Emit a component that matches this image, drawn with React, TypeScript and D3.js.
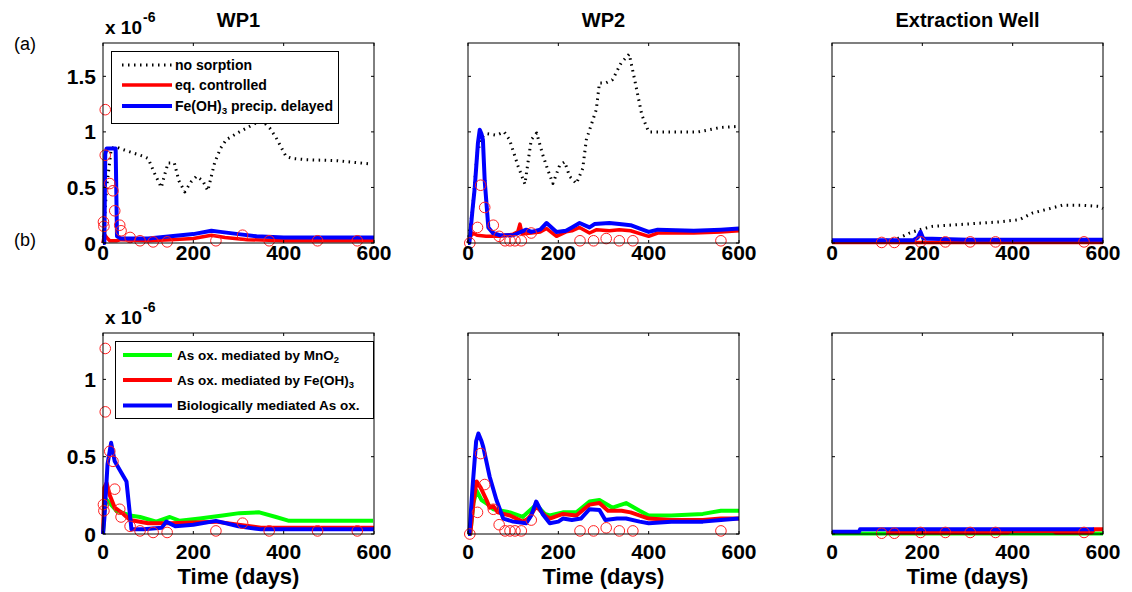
import React from 'react';
import * as d3 from 'd3';

type Pt = [number, number];

// ---------- tick labels / text ----------
const dayTicks = [0, 200, 400, 600];
const yTicksTop = [0, 0.5, 1, 1.5];
const yTicksBottom = [0, 0.5, 1];
const panelTitles = ['WP1', 'WP2', 'Extraction Well'];
const xAxisLabel = 'Time (days)';
const rowLabels = ['(a)', '(b)'];
// legend labels as [before, subscript, after]
const legendTop: [string, string, string][] = [
  ['no sorption', '', ''],
  ['eq. controlled', '', ''],
  ['Fe(OH)', '3', ' precip. delayed'],
];
const legendBottom: [string, string, string][] = [
  ['As ox. mediated by MnO', '2', ''],
  ['As ox. mediated by Fe(OH)', '3', ''],
  ['Biologically mediated As ox.', '', ''],
];

// ---------- data (values in 1e-6) ----------
// Row (a) WP1
const wp1NoSorption: Pt[] = [[0,0],[8,0.5],[18,0.84],[26,0.87],[45,0.84],[67,0.81],[90,0.78],[100,0.76],[115,0.62],[129,0.5],[137,0.62],[144,0.72],[158,0.72],[168,0.56],[181,0.46],[195,0.55],[207,0.6],[221,0.56],[232,0.47],[247,0.72],[260,0.85],[273,0.93],[302,1.0],[339,1.08],[355,1.09],[370,1.03],[383,0.95],[405,0.78],[420,0.76],[449,0.75],[520,0.74],[596,0.71]];
const wp1EqControlled: Pt[] = [[0,0],[3,0.08],[8,0.05],[15,0.02],[30,0.02],[40,0.03],[100,0.02],[150,0.03],[200,0.04],[240,0.07],[270,0.05],[320,0.03],[400,0.02],[600,0.02]];
const wp1Delayed: Pt[] = [[0,0],[3,0],[5,0.8],[8,0.85],[28,0.85],[31,0.06],[40,0.04],[100,0.04],[150,0.06],[200,0.08],[240,0.11],[260,0.1],[300,0.08],[340,0.06],[400,0.05],[600,0.05]];
// Row (b) WP1
const wp1MnO2: Pt[] = [[0,0],[3,0.15],[8,0.22],[15,0.2],[30,0.15],[45,0.135],[60,0.12],[82,0.11],[118,0.08],[148,0.11],[170,0.085],[214,0.1],[265,0.12],[302,0.135],[346,0.14],[383,0.11],[412,0.085],[500,0.085],[598,0.085]];
const wp1FeOH3: Pt[] = [[0,0],[3,0.3],[8,0.33],[15,0.25],[26,0.17],[45,0.13],[60,0.09],[100,0.07],[150,0.07],[200,0.075],[250,0.08],[300,0.06],[350,0.04],[600,0.04]];
const wp1Bio: Pt[] = [[0,0],[3,0.1],[10,0.45],[18,0.59],[26,0.47],[40,0.4],[52,0.34],[63,0.03],[90,0.03],[130,0.04],[140,0.08],[160,0.05],[200,0.06],[250,0.085],[300,0.05],[350,0.03],[600,0.03]];
const wp1Observed: Pt[] = [[5,1.2],[5,0.79],[1,0.19],[2,0.15],[15,0.535],[22,0.47],[26,0.29],[37,0.16],[40,0.11],[60,0.05],[82,0.02],[111,0.01],[142,0.01],[250,0.02],[309,0.07],[368,0.02],[475,0.02],[563,0.02]];

// Row (a) WP2
const wp2NoSorption: Pt[] = [[0,0],[10,0.3],[20,0.8],[30,0.95],[41,0.985],[63,0.97],[80,1.0],[92,0.93],[111,0.69],[126,0.53],[140,0.93],[152,0.99],[165,0.8],[177,0.655],[188,0.535],[203,0.7],[214,0.73],[225,0.6],[240,0.535],[254,0.67],[262,0.93],[284,1.2],[291,1.44],[305,1.44],[320,1.47],[339,1.62],[357,1.7],[370,1.45],[385,1.15],[400,1.0],[450,1.0],[510,1.0],[560,1.04],[600,1.05]];
const wp2EqControlled: Pt[] = [[0,0],[5,0.05],[10,0.09],[20,0.07],[40,0.06],[70,0.06],[100,0.08],[110,0.1],[115,0.17],[120,0.08],[140,0.09],[160,0.1],[174,0.13],[196,0.06],[217,0.1],[230,0.11],[247,0.14],[269,0.09],[285,0.12],[313,0.11],[335,0.12],[360,0.11],[400,0.06],[420,0.09],[500,0.09],[560,0.1],[600,0.11]];
const wp2Delayed: Pt[] = [[0,0],[3,0],[10,0.3],[15,0.5],[22,0.9],[26,1.02],[30,0.98],[33,0.93],[37,0.56],[45,0.14],[55,0.09],[70,0.07],[100,0.07],[129,0.12],[140,0.1],[160,0.12],[174,0.18],[196,0.1],[217,0.11],[230,0.14],[247,0.18],[269,0.14],[280,0.17],[313,0.18],[335,0.17],[360,0.16],[400,0.1],[420,0.12],[500,0.11],[560,0.12],[600,0.13]];
// Row (b) WP2
const wp2MnO2: Pt[] = [[0,0],[5,0],[12,0.2],[19,0.28],[30,0.22],[45,0.19],[56,0.16],[93,0.14],[121,0.11],[151,0.19],[170,0.13],[181,0.12],[210,0.14],[240,0.14],[269,0.21],[291,0.22],[320,0.17],[350,0.2],[380,0.15],[400,0.12],[450,0.12],[520,0.13],[560,0.15],[600,0.15]];
const wp2FeOH3: Pt[] = [[0,0],[5,0],[12,0.2],[19,0.34],[28,0.3],[41,0.22],[48,0.17],[56,0.18],[66,0.14],[93,0.12],[121,0.08],[135,0.1],[151,0.18],[170,0.12],[181,0.1],[210,0.13],[240,0.12],[269,0.19],[291,0.2],[310,0.15],[340,0.15],[360,0.14],[400,0.1],[450,0.09],[520,0.09],[560,0.1],[600,0.1]];
const wp2Bio: Pt[] = [[0,0],[3,0],[10,0.3],[18,0.6],[23,0.65],[30,0.6],[34,0.56],[48,0.37],[63,0.22],[78,0.1],[100,0.08],[129,0.07],[140,0.12],[151,0.21],[165,0.13],[181,0.07],[200,0.08],[210,0.1],[230,0.09],[250,0.1],[269,0.16],[291,0.155],[304,0.09],[330,0.1],[350,0.1],[380,0.08],[400,0.07],[450,0.08],[520,0.08],[560,0.09],[600,0.1]];
const wp2Observed: Pt[] = [[4,0],[21,0.14],[28,0.52],[37,0.32],[56,0.16],[69,0.06],[82,0.02],[93,0.02],[104,0.02],[118,0.02],[140,0.09],[248,0.02],[278,0.02],[306,0.04],[335,0.02],[365,0.02],[560,0.02]];

// Row (a) Extraction well
const ewNoSorption: Pt[] = [[0,0.01],[40,0.02],[95,0.02],[140,0.03],[172,0.09],[194,0.12],[223,0.15],[297,0.17],[370,0.19],[415,0.21],[444,0.27],[473,0.3],[510,0.34],[554,0.34],[591,0.33],[600,0.31]];
const ewEqControlled: Pt[] = [[0,0.005],[600,0.005]];
const ewDelayed: Pt[] = [[0,0.025],[180,0.025],[190,0.05],[196,0.1],[202,0.04],[300,0.03],[450,0.03],[600,0.03]];
// Row (b) Extraction well
const ewMnO2: Pt[] = [[0,0.003],[600,0.003]];
const ewFeOH3: Pt[] = [[120,0.01],[390,0.01],[395,0.02],[490,0.02],[495,0.01],[575,0.01],[580,0.03],[600,0.03]];
const ewBio: Pt[] = [[0,0.015],[60,0.015],[62,0.03],[580,0.03]];
const ewObserved: Pt[] = [[110,0.005],[138,0.005],[196,0.01],[251,0.01],[306,0.01],[362,0.01],[558,0.01]];

// ---------- layout ----------
const W = 1132, H = 592;
const colX = [103, 468, 832];
const PW = 271;
const rows = [
  { top: 43, bottom: 243, max: 1.8, ticks: yTicksTop, xLabelY: 260 },
  { top: 333, bottom: 534, max: 1.3, ticks: yTicksBottom, xLabelY: 559 },
];
const FONT = '"Liberation Sans", Arial, Helvetica, sans-serif';
const DOT = '1.5 4.5';

type Series = { data: Pt[]; color: string; width: number; dash?: string };

const panelSeries: Series[][][] = [
  [
    [
      { data: wp1NoSorption, color: '#000', width: 3, dash: DOT },
      { data: wp1EqControlled, color: '#ff0000', width: 3.5 },
      { data: wp1Delayed, color: '#0000ff', width: 4 },
    ],
    [
      { data: wp2NoSorption, color: '#000', width: 3, dash: DOT },
      { data: wp2EqControlled, color: '#ff0000', width: 3.5 },
      { data: wp2Delayed, color: '#0000ff', width: 4 },
    ],
    [
      { data: ewNoSorption, color: '#000', width: 3, dash: DOT },
      { data: ewEqControlled, color: '#ff0000', width: 3.5 },
      { data: ewDelayed, color: '#0000ff', width: 4 },
    ],
  ],
  [
    [
      { data: wp1MnO2, color: '#00ff00', width: 4 },
      { data: wp1FeOH3, color: '#ff0000', width: 4 },
      { data: wp1Bio, color: '#0000ff', width: 4 },
    ],
    [
      { data: wp2MnO2, color: '#00ff00', width: 4 },
      { data: wp2FeOH3, color: '#ff0000', width: 4 },
      { data: wp2Bio, color: '#0000ff', width: 4 },
    ],
    [
      { data: ewMnO2, color: '#00ff00', width: 4 },
      { data: ewFeOH3, color: '#ff0000', width: 4 },
      { data: ewBio, color: '#0000ff', width: 4 },
    ],
  ],
];
const observed = [wp1Observed, wp2Observed, ewObserved];

function Panel({ r, c }: { r: number; c: number }) {
  const row = rows[r];
  const x0 = colX[c];
  const x = d3.scaleLinear().domain([0, 600]).range([x0, x0 + PW]);
  const y = d3.scaleLinear().domain([0, row.max]).range([row.bottom, row.top]);
  const line = d3.line<Pt>().x((d) => x(d[0])).y((d) => y(d[1]));
  const tl = 3;
  return (
    <g>
      <rect x={x0} y={row.top} width={PW} height={row.bottom - row.top} fill="#fff" />
      {panelSeries[r][c].map((s, i) => (
        <path key={i} d={line(s.data) || ''} fill="none" stroke={s.color} strokeWidth={s.width}
          strokeDasharray={s.dash} strokeLinejoin="round" />
      ))}
      {observed[c].map((d, i) => (
        <circle key={i} cx={x(d[0])} cy={y(d[1])} r={5.3} fill="none" stroke="#ff2020" strokeWidth={1} />
      ))}
      <rect x={x0} y={row.top} width={PW} height={row.bottom - row.top} fill="none" stroke="#000" strokeWidth={1} />
      {dayTicks.map((t) => (
        <g key={'x' + t}>
          <line x1={x(t)} x2={x(t)} y1={row.bottom} y2={row.bottom - tl} stroke="#000" />
          <line x1={x(t)} x2={x(t)} y1={row.top} y2={row.top + tl} stroke="#000" />
          <text x={x(t)} y={row.xLabelY} textAnchor="middle" fontFamily={FONT} fontWeight="bold" fontSize={21}>{t}</text>
        </g>
      ))}
      {row.ticks.map((t) => (
        <g key={'y' + t}>
          <line x1={x0} x2={x0 + tl} y1={y(t)} y2={y(t)} stroke="#000" />
          <line x1={x0 + PW} x2={x0 + PW - tl} y1={y(t)} y2={y(t)} stroke="#000" />
          {c === 0 && (
            <text x={x0 - 7} y={y(t)} dy="0.36em" textAnchor="end" fontFamily={FONT} fontWeight="bold" fontSize={21}>{String(t)}</text>
          )}
        </g>
      ))}
      {r === 1 && (
        <text x={x0 + PW / 2} y={584} textAnchor="middle" fontFamily={FONT} fontWeight="bold" fontSize={22}>{xAxisLabel}</text>
      )}
      {r === 0 && (
        <text x={x0 + PW / 2} y={27} textAnchor="middle" fontFamily={FONT} fontWeight="bold" fontSize={20}>{panelTitles[c]}</text>
      )}
      {c === 0 && (
        <g fontFamily={FONT} fontWeight="bold">
          <text x={x0 + 2} y={row.top - 9} fontSize={19}>x 10</text>
          <text x={x0 + 40} y={row.top - 21} fontSize={14}>-6</text>
        </g>
      )}
    </g>
  );
}

function Legend({ box, items, styles, fs }: {
  box: { x: number; y: number; w: number; h: number; ys: number[]; lx1: number; lx2: number; tx: number };
  items: [string, string, string][];
  styles: Series[];
  fs: number;
}) {
  return (
    <g>
      <rect x={box.x} y={box.y} width={box.w} height={box.h} fill="#fff" stroke="#000" strokeWidth={1} />
      {items.map((it, i) => (
        <g key={i}>
          <line x1={box.lx1} x2={box.lx2} y1={box.ys[i]} y2={box.ys[i]} stroke={styles[i].color}
            strokeWidth={styles[i].width} strokeDasharray={styles[i].dash} />
          <text x={box.tx} y={box.ys[i]} dy="0.36em" fontFamily={FONT} fontWeight="bold" fontSize={fs}>
            {it[0]}
            {it[1] && <tspan fontSize={fs * 0.7} dy="0.35em">{it[1]}</tspan>}
            {it[2] && <tspan dy={it[1] ? '-0.245em' : undefined}>{it[2]}</tspan>}
          </text>
        </g>
      ))}
    </g>
  );
}

export default function App() {
  return (
    <svg width={W} height={H} style={{ position: 'absolute', left: 0, top: 0, background: '#fff' }}>
      <rect x={0} y={0} width={W} height={H} fill="#fff" />
      {[0, 1].map((r) => [0, 1, 2].map((c) => <Panel key={r + '-' + c} r={r} c={c} />))}
      <Legend
        box={{ x: 111.5, y: 51.5, w: 227, h: 72, ys: [65, 85, 106], lx1: 122, lx2: 172, tx: 175 }}
        items={legendTop}
        styles={panelSeries[0][0]}
        fs={14}
      />
      <Legend
        box={{ x: 115.5, y: 341.5, w: 258, h: 77, ys: [355, 380, 405.5], lx1: 123, lx2: 172, tx: 177 }}
        items={legendBottom}
        styles={panelSeries[1][0]}
        fs={13.5}
      />
      <text x={14} y={50} fontFamily={FONT} fontSize={18}>{rowLabels[0]}</text>
      <text x={14} y={246} fontFamily={FONT} fontSize={18}>{rowLabels[1]}</text>
    </svg>
  );
}
